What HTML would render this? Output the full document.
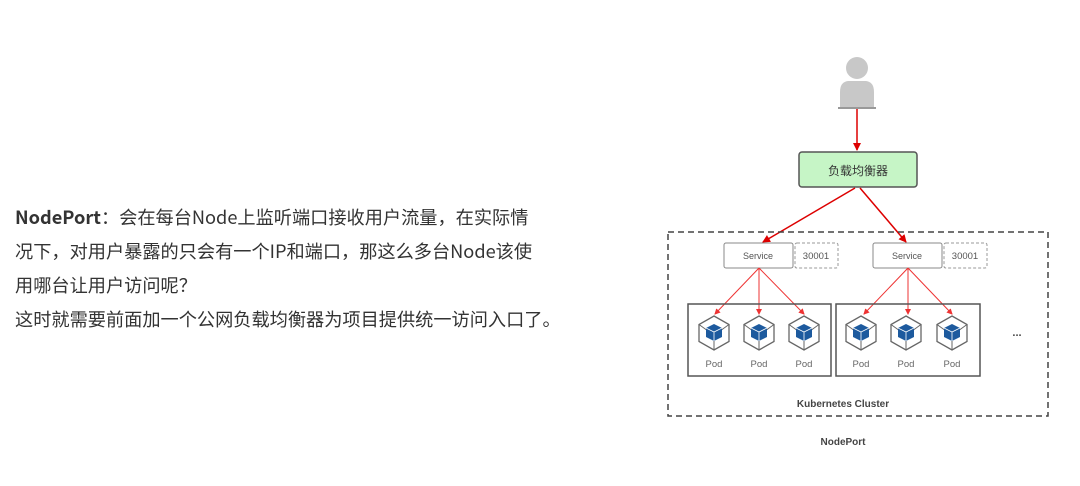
<!DOCTYPE html>
<html><head><meta charset="utf-8"><style>
body{margin:0;width:1080px;height:486px;background:#fff;position:relative;overflow:hidden;font-family:"Liberation Sans","Noto Sans CJK SC",sans-serif;}
.t{position:absolute;left:15px;font-size:18.2px;color:#333;white-space:nowrap;line-height:24px;font-family:"Noto Sans CJK SC",sans-serif;}
svg{position:absolute;left:0;top:0}
</style></head><body>
<div class="t" style="top:205px"><b>NodePort</b>：会在每台Node上监听端口接收用户流量，在实际情</div>
<div class="t" style="top:239px">况下，对用户暴露的只会有一个IP和端口，那这么多台Node该使</div>
<div class="t" style="top:273px">用哪台让用户访问呢？</div>
<div class="t" style="top:307px">这时就需要前面加一个公网负载均衡器为项目提供统一访问入口了。</div>
<svg width="1080" height="486" font-family="Liberation Sans, Noto Sans CJK SC, sans-serif">
<defs>
<marker id="a" markerWidth="8" markerHeight="8" refX="7" refY="4" orient="auto" markerUnits="userSpaceOnUse"><path d="M0,0 L8,4 L0,8z" fill="#d00"/></marker>
<marker id="b" markerWidth="6" markerHeight="6" refX="5" refY="3" orient="auto" markerUnits="userSpaceOnUse"><path d="M0,0 L6,3 L0,6z" fill="#e33"/></marker>
<g id="pod">
<path d="M0,-17 L15,-8.5 L15,8.5 L0,17 L-15,8.5 L-15,-8.5z" fill="#fff" stroke="#666" stroke-width="1.3"/>
<path d="M0,5 L0,17 M-6,-2 L-15,-8.5 M6,-2 L15,-8.5" stroke="#666" stroke-width="1"/>
<path d="M0,-9 L8,-5 L8,4 L0,8 L-8,4 L-8,-5z" fill="#1d5a9e"/>
<path d="M-8,-5 L0,-1 L8,-5 M0,-1 L0,8" stroke="#fff" stroke-width="0.8" fill="none"/>
</g>
</defs>
<circle cx="857" cy="68" r="11" fill="#c8c8c8"/>
<path d="M840,108 L840,92 Q840,82 848,81 L866,81 Q874,82 874,92 L874,108z" fill="#c8c8c8"/>
<rect x="838" y="107" width="38" height="2" fill="#999"/>
<line x1="857" y1="109" x2="857" y2="150" stroke="#d00" stroke-width="1.5" marker-end="url(#a)"/>
<rect x="799" y="152" width="118" height="35" rx="3" fill="#c6f5c6" stroke="#555" stroke-width="1.5"/>
<text x="858" y="175" font-size="12" text-anchor="middle" fill="#333">负载均衡器</text>
<line x1="855" y1="188" x2="763" y2="242" stroke="#d00" stroke-width="1.5" marker-end="url(#a)"/>
<line x1="860" y1="188" x2="906" y2="242" stroke="#d00" stroke-width="1.5" marker-end="url(#a)"/>
<rect x="668" y="232" width="380" height="184" fill="none" stroke="#444" stroke-width="1.5" stroke-dasharray="6,4"/>
<rect x="724" y="243" width="69" height="25" rx="2" fill="#fff" stroke="#888"/>
<text x="758" y="259" font-size="9" text-anchor="middle" fill="#555">Service</text>
<rect x="795" y="243" width="43" height="25" rx="2" fill="#fff" stroke="#999" stroke-dasharray="3,2"/>
<text x="816" y="259" font-size="9.5" text-anchor="middle" fill="#555">30001</text>
<rect x="873" y="243" width="69" height="25" rx="2" fill="#fff" stroke="#888"/>
<text x="907" y="259" font-size="9" text-anchor="middle" fill="#555">Service</text>
<rect x="944" y="243" width="43" height="25" rx="2" fill="#fff" stroke="#999" stroke-dasharray="3,2"/>
<text x="965" y="259" font-size="9.5" text-anchor="middle" fill="#555">30001</text>
<g stroke="#e33" stroke-width="1">
<line x1="759" y1="268" x2="715" y2="314" marker-end="url(#b)"/>
<line x1="759" y1="268" x2="759" y2="314" marker-end="url(#b)"/>
<line x1="759" y1="268" x2="804" y2="314" marker-end="url(#b)"/>
<line x1="908" y1="268" x2="864" y2="314" marker-end="url(#b)"/>
<line x1="908" y1="268" x2="908" y2="314" marker-end="url(#b)"/>
<line x1="908" y1="268" x2="952" y2="314" marker-end="url(#b)"/>
</g>
<rect x="688" y="304" width="143" height="72" fill="none" stroke="#555" stroke-width="1.5"/>
<rect x="836" y="304" width="144" height="72" fill="none" stroke="#555" stroke-width="1.5"/>
<use href="#pod" x="714" y="333"/><use href="#pod" x="759" y="333"/><use href="#pod" x="804" y="333"/>
<use href="#pod" x="861" y="333"/><use href="#pod" x="906" y="333"/><use href="#pod" x="952" y="333"/>
<g font-size="9.5" fill="#666" text-anchor="middle">
<text x="714" y="367">Pod</text><text x="759" y="367">Pod</text><text x="804" y="367">Pod</text>
<text x="861" y="367">Pod</text><text x="906" y="367">Pod</text><text x="952" y="367">Pod</text>
</g>
<text x="1017" y="336" font-size="11" font-weight="bold" fill="#444" text-anchor="middle">...</text>
<text x="843" y="407" font-size="10" font-weight="bold" fill="#444" text-anchor="middle">Kubernetes Cluster</text>
<text x="843" y="445" font-size="10" font-weight="bold" fill="#444" text-anchor="middle">NodePort</text>
</svg>
</body></html>
